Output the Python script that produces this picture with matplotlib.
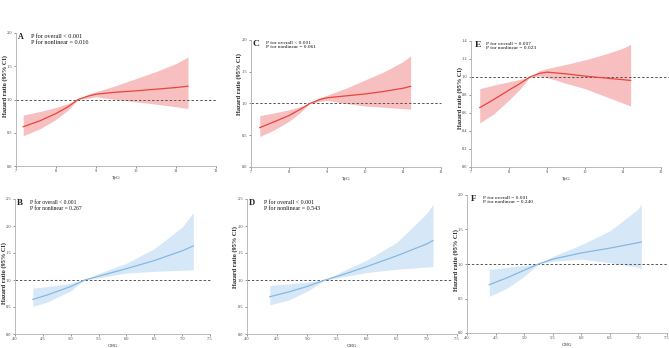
import matplotlib
matplotlib.use("Agg")
import matplotlib.pyplot as plt

plt.rcParams['font.family'] = ['Liberation Serif', 'DejaVu Serif']

# ---- data ----
tyg_A = [7.18, 7.6, 8.0, 8.3, 8.55, 8.8, 9.0, 9.5, 10.0, 10.5, 11.0, 11.3]
hr_A = [0.59, 0.68, 0.79, 0.89, 1.0, 1.05, 1.08, 1.11, 1.13, 1.155, 1.18, 1.20]
up_A = [0.765, 0.82, 0.88, 0.94, 1.0, 1.08, 1.115, 1.21, 1.315, 1.42, 1.54, 1.64]
lo_A = [0.455, 0.56, 0.70, 0.84, 1.0, 1.02, 1.04, 1.00, 0.965, 0.93, 0.89, 0.865]

tyg_C = [7.23, 7.6, 8.0, 8.3, 8.55, 8.8, 9.0, 9.5, 10.0, 10.5, 11.0, 11.2]
hr_C = [0.62, 0.71, 0.81, 0.91, 1.0, 1.06, 1.09, 1.12, 1.15, 1.19, 1.24, 1.27]
up_C = [0.81, 0.85, 0.90, 0.95, 1.0, 1.09, 1.13, 1.24, 1.37, 1.50, 1.66, 1.75]
lo_C = [0.48, 0.58, 0.72, 0.86, 1.0, 1.03, 1.05, 1.00, 0.96, 0.94, 0.92, 0.91]

tyg_E = [7.23, 7.6, 8.0, 8.3, 8.55, 8.8, 9.0, 9.5, 10.0, 10.5, 11.0, 11.2]
hr_E = [0.66, 0.75, 0.855, 0.93, 1.0, 1.04, 1.054, 1.035, 1.01, 0.99, 0.97, 0.962]
up_E = [0.87, 0.91, 0.947, 0.975, 1.0, 1.07, 1.094, 1.14, 1.19, 1.25, 1.32, 1.363]
lo_E = [0.49, 0.59, 0.744, 0.87, 1.0, 1.01, 0.995, 0.93, 0.87, 0.79, 0.71, 0.678]

chg_B = [4.32, 4.6, 5.0, 5.25, 5.5, 6.0, 6.5, 7.0, 7.2]
hr_B = [0.64, 0.73, 0.88, 1.0, 1.07, 1.21, 1.36, 1.54, 1.63]
up_B = [0.85, 0.88, 0.94, 1.0, 1.12, 1.31, 1.58, 1.98, 2.25]
lo_B = [0.51, 0.60, 0.80, 1.0, 1.04, 1.13, 1.16, 1.18, 1.19]

chg_D = [4.38, 4.7, 5.0, 5.3, 5.6, 6.0, 6.5, 7.0, 7.1]
hr_D = [0.69, 0.78, 0.88, 1.0, 1.10, 1.25, 1.45, 1.67, 1.73]
up_D = [0.90, 0.93, 0.96, 1.0, 1.17, 1.37, 1.70, 2.24, 2.40]
lo_D = [0.54, 0.63, 0.79, 1.0, 1.06, 1.14, 1.20, 1.24, 1.25]

chg_F = [4.39, 4.7, 5.0, 5.25, 5.5, 6.0, 6.5, 7.0, 7.05]
hr_F = [0.70, 0.80, 0.91, 1.0, 1.07, 1.16, 1.23, 1.31, 1.32]
up_F = [0.92, 0.95, 0.98, 1.0, 1.11, 1.28, 1.48, 1.80, 1.87]
lo_F = [0.53, 0.65, 0.82, 1.0, 1.04, 1.07, 1.02, 0.95, 0.93]

p_texts = {
    'A': "P for overall < 0.001\nP for nonlinear = 0.016",
    'C': "P for overall < 0.001\nP for nonlinear = 0.061",
    'E': "P for overall = 0.007\nP for nonlinear = 0.023",
    'B': "P for overall < 0.001\nP for nonlinear = 0.267",
    'D': "P for overall < 0.001\nP for nonlinear = 0.543",
    'F': "P for overall = 0.001\nP for nonlinear = 0.240",
}

tyg_ticks = [7, 8, 9, 10, 11, 12]
chg_ticks = [4.0, 4.5, 5.0, 5.5, 6.0, 6.5, 7.0, 7.5]

W, H = 669, 348
fig = plt.figure(figsize=(W / 100, H / 100), dpi=100)

RED_L, RED_F = '#e8453c', '#f7bfbf'
BLUE_L, BLUE_F = '#86b8e2', '#d6e8f8'

# panel: (x0, x1, ytop, ybot) in pixels
panels = [
    ('A', (16, 216, 33, 166), tyg_A, hr_A, up_A, lo_A, 'TyG', tyg_ticks, (0, 2.0), [0, 0.5, 1.0, 1.5, 2.0], RED_L, RED_F, 5.8, 4.4, (-0.055, 0.605), 0.075, 1.0, 0.01),
    ('C', (251, 441, 40, 167), tyg_C, hr_C, up_C, lo_C, 'TyG', tyg_ticks, (0, 2.0), [0, 0.5, 1.0, 1.5, 2.0], RED_L, RED_F, 6.8, 3.9, (-0.063, 0.65), 0.077, 1.0, 0.01),
    ('E', (471, 661, 41, 167), tyg_E, hr_E, up_E, lo_E, 'TyG', tyg_ticks, (0, 1.4), [0, 0.2, 0.4, 0.6, 0.8, 1.0, 1.2, 1.4], RED_L, RED_F, 6.8, 3.9, (-0.058, 0.55), 0.077, 1.045, 0.02),
    ('B', (15, 210, 199, 334), chg_B, hr_B, up_B, lo_B, 'CHG', chg_ticks, (0, 2.5), [0, 0.5, 1.0, 1.5, 2.0, 2.5], BLUE_L, BLUE_F, 6.5, 4.0, (-0.058, 0.45), 0.077, 1.0, 0.01),
    ('D', (247, 457, 199, 334), chg_D, hr_D, up_D, lo_D, 'CHG', chg_ticks, (0, 2.5), [0, 0.5, 1.0, 1.5, 2.0, 2.5], BLUE_L, BLUE_F, 6.2, 4.3, (-0.057, 0.57), 0.081, 0.97, 0.01),
    ('F', (467, 667, 195, 333), chg_F, hr_F, up_F, lo_F, 'CHG', chg_ticks, (0, 2.0), [0, 0.5, 1.0, 1.5, 2.0], BLUE_L, BLUE_F, 6.6, 3.9, (-0.056, 0.53), 0.08, 1.0, 0.02),
]

for (lab, (x0, x1, yt, yb), xs, hr, up, lo, xlab, xt, ylim, yt_list,
     lc, fc, let_fs, p_fs, ylab_pos, p_x, dash_end, let_x) in panels:
    ax = fig.add_axes([x0 / W, 1 - yb / H, (x1 - x0) / W, (yb - yt) / H])
    ax.fill_between(xs, lo, up, color=fc, linewidth=0, zorder=1)
    ax.plot(xs, hr, color=lc, linewidth=0.9, zorder=3)
    ax.plot([0, dash_end], [1.0, 1.0], transform=ax.get_yaxis_transform(),
            color='#555555', linestyle=(0, (2.5, 2)), linewidth=0.7,
            clip_on=False, zorder=2)
    ax.set_xlim(xt[0], xt[-1])
    ax.set_ylim(*ylim)
    ax.set_xticks(xt)
    ax.set_xticklabels([str(t) if isinstance(t, int) else f"{t:.1f}" for t in xt])
    ax.set_yticks(yt_list)
    ax.set_yticklabels([f"{v:.1f}" for v in yt_list])
    for s in ('top', 'right'):
        ax.spines[s].set_visible(False)
    for s in ('left', 'bottom'):
        ax.spines[s].set_color('#b0b0b0')
        ax.spines[s].set_linewidth(0.6)
    ax.tick_params(axis='both', labelsize=3.2, length=1.5, width=0.4,
                   pad=1, colors='#444444')
    ax.set_xlabel(xlab, fontsize=3.6, labelpad=2, color='#222222')
    ax.set_ylabel('Hazard ratio (95% CI)', fontsize=4.6, fontweight='bold',
                  color='#222222', va='center')
    ax.yaxis.set_label_coords(*ylab_pos)
    ax.text(let_x, 1.0, lab, transform=ax.transAxes, fontsize=let_fs,
            fontweight='bold', va='top', ha='left', color='#222222')
    ax.text(p_x, 0.995, p_texts[lab], transform=ax.transAxes, fontsize=p_fs,
            va='top', ha='left', linespacing=1.25, color='#111111')
    ax.patch.set_alpha(0)

fig.savefig('out.png', dpi=100)
